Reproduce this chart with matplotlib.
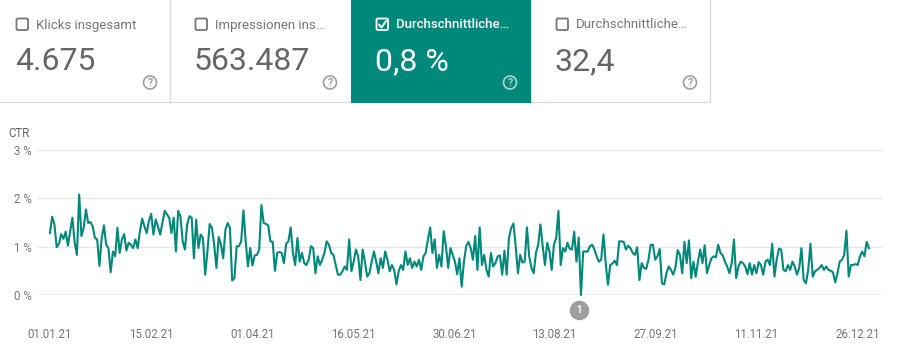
import numpy as np
import pandas as pd
import matplotlib
matplotlib.use('Agg')
import matplotlib.pyplot as plt
import matplotlib.dates as mdates
from matplotlib.patches import Rectangle, FancyBboxPatch, Circle

plt.rcParams['font.family'] = ['Roboto', 'DejaVu Sans']

# tiles on top
tile_labels = ['Klicks insgesamt', 'Impressionen ins…', 'Durchschnittliche…', 'Durchschnittliche…']
tile_values = ['4.675', '563.487', '0,8 %', '32,4']
tile_selected = [False, False, True, False]

# daily CTR in % (01.01.21 - 31.12.21)
ctr_jan_mar = [1.28, 1.62, 1.46, 0.99, 1.06, 1.26, 1.16, 1.31, 1.02, 1.32,
               1.60, 1.08, 0.83, 2.08, 1.22, 1.39, 1.77, 1.49, 1.51, 1.42,
               1.18, 1.15, 0.60, 1.18, 1.44, 1.04, 0.97, 0.47, 0.90, 0.80,
               1.39, 0.87, 1.15, 1.26, 0.92, 1.08, 1.04, 0.97, 1.15, 0.97,
               1.32, 1.58, 1.42, 1.28, 1.53, 1.68, 1.25, 1.56, 1.42, 1.25,
               1.49, 1.74, 1.67, 1.60, 1.28, 1.60, 0.90, 1.74, 1.63, 1.11,
               0.94]
ctr_mar_may = [1.46, 1.63, 1.60, 0.76, 1.56, 0.97, 1.25, 1.18, 0.42, 0.90,
               1.47, 1.39, 1.04, 0.56, 1.20, 1.04, 0.76, 1.35, 1.49, 1.39,
               0.30, 0.35, 1.01, 1.01, 1.11, 1.75, 1.11, 0.59, 0.97, 0.61,
               0.82, 0.83, 0.94, 1.86, 1.49, 1.47, 1.44, 1.11, 1.10, 0.50,
               0.87, 0.89, 0.87, 0.66, 1.06, 1.11, 1.40, 0.87, 0.62, 1.18,
               0.69, 0.87, 0.66, 0.62, 0.73, 1.01, 0.97, 0.45, 0.80, 0.62,
               0.73, 0.87]
ctr_may_jul = [1.11, 1.04, 0.87, 0.83, 0.62, 0.42, 0.42, 0.49, 0.59, 0.52,
               1.15, 0.49, 0.69, 0.94, 0.80, 0.31, 0.94, 0.69, 0.38, 0.45,
               0.69, 0.90, 0.69, 0.45, 0.76, 0.56, 0.90, 0.73, 0.49, 0.62,
               0.52, 0.22, 0.49, 0.62, 0.52, 0.90, 0.62, 0.76, 0.56, 0.69,
               0.59, 0.73, 0.52, 0.80, 0.87, 1.15, 1.40, 0.87, 1.15, 0.56,
               0.83, 0.59, 1.32, 1.01, 0.56, 0.97, 0.83, 0.69, 0.43, 0.76,
               0.17, 0.69]
ctr_jul_sep = [1.01, 1.10, 0.97, 0.73, 1.22, 0.52, 1.40, 0.62, 0.83, 0.52,
               0.38, 0.87, 0.59, 0.66, 0.80, 0.82, 0.42, 0.92, 0.42, 1.18,
               1.39, 1.48, 1.01, 0.45, 0.83, 0.67, 0.69, 1.40, 0.80, 0.56,
               0.45, 0.87, 1.04, 1.46, 1.01, 0.62, 1.08, 0.90, 0.52, 1.04,
               1.18, 1.74, 0.62, 0.97, 0.90, 1.08, 0.96, 0.94, 1.31, 0.69,
               1.19, 0.00, 0.90, 0.90, 0.90, 1.01, 1.04, 0.94, 0.80, 0.69,
               0.73, 1.25]
ctr_sep_nov = [0.66, 0.21, 0.62, 0.65, 0.71, 0.62, 1.11, 1.11, 1.10, 0.94,
               1.02, 0.97, 0.87, 0.83, 0.99, 0.31, 0.66, 0.56, 0.54, 0.73,
               1.04, 1.04, 0.73, 0.80, 0.95, 0.24, 0.22, 0.45, 0.59, 0.52,
               0.42, 0.57, 0.93, 0.83, 0.45, 1.10, 0.66, 1.13, 0.35, 0.69,
               0.38, 0.69, 0.94, 0.66, 1.03, 0.45, 0.62, 0.76, 0.80, 0.78,
               1.04, 0.87, 0.82, 0.69, 0.59, 0.45, 0.66, 1.15, 0.35, 0.59,
               0.69, 0.66]
ctr_nov_dec = [0.59, 0.43, 0.66, 0.42, 0.62, 0.45, 0.68, 0.62, 0.42, 0.69,
               0.73, 0.62, 1.06, 0.38, 0.73, 0.96, 0.94, 0.52, 0.49, 0.62,
               0.52, 0.69, 0.59, 0.42, 0.56, 0.97, 0.31, 0.24, 0.52, 1.06,
               0.38, 0.49, 0.52, 0.56, 0.62, 0.52, 0.59, 0.52, 0.50, 0.47,
               0.26, 0.45, 0.69, 0.73, 0.83, 1.33, 0.38, 0.62, 0.62, 0.64,
               0.62, 0.80, 0.90, 0.80, 1.10, 0.97]

ctr = ctr_jan_mar + ctr_mar_may + ctr_may_jul + ctr_jul_sep + ctr_sep_nov + ctr_nov_dec
dates = pd.date_range('2021-01-01', periods=len(ctr))

x_tick_labels = ['01.01.21', '15.02.21', '01.04.21', '16.05.21', '30.06.21',
                 '13.08.21', '27.09.21', '11.11.21', '26.12.21']
y_ticks = [0, 1, 2, 3]
annotation_dates = ['2021-08-24']

TEAL = '#00897b'
GREY_TXT = '#757575'

W, H = 908, 356
fig = plt.figure(figsize=(W / 100, H / 100), dpi=100)

# --- tiles, drawn in pixel coords ---
ov = fig.add_axes([0, 0, 1, 1])
ov.set_xlim(0, W)
ov.set_ylim(H, 0)
ov.axis('off')

edges = [0, 170, 351, 531, 710]
box_x = [16, 195, 376, 556]
help_x = [150, 330, 510, 690]
border = '#dadce0'
ov.plot([0, 710], [102, 102], color=border, lw=1)
for e in edges[1:]:
    ov.plot([e, e], [0, 102], color=border, lw=1)

for i, (lab, val, sel) in enumerate(zip(tile_labels, tile_values, tile_selected)):
    fg = 'white' if sel else GREY_TXT
    if sel:
        ov.add_patch(Rectangle((edges[i], 0), edges[i + 1] - edges[i], 102.5,
                               facecolor=TEAL, edgecolor='none', zorder=2))
    bx = box_x[i]
    ov.add_patch(FancyBboxPatch((bx + 0.5, 18.5), 11.5, 11.5,
                                boxstyle='round,pad=0,rounding_size=1.5',
                                facecolor='none', edgecolor=fg, lw=1.3, zorder=3))
    if sel:
        ov.plot([bx + 3, bx + 5.5, bx + 10], [24.5, 27.5, 21], color='white',
                lw=1.4, solid_capstyle='round', zorder=4)
    ov.text(bx + 20, 25, lab, color=fg, fontsize=9.5, va='center', ha='left',
            fontweight=500 if sel else 'normal', zorder=4)
    ov.text(bx - 1, 70, val, color='white' if sel else '#666666', fontsize=23,
            va='baseline', ha='left', zorder=4)
    qc = '#a7d7d1' if sel else '#9e9e9e'
    ov.add_patch(Circle((help_x[i], 82.5), 6.5, facecolor='none', edgecolor=qc,
                        lw=1.2, zorder=4))
    ov.text(help_x[i], 83, '?', color=qc, fontsize=7.5, ha='center', va='center',
            fontweight='bold', zorder=4)

# --- chart ---
ax = fig.add_axes([38 / W, (H - 295) / H, (882 - 38) / W, (295 - 150) / H])
ax.patch.set_alpha(0)
for s in ax.spines.values():
    s.set_visible(False)

for t in y_ticks[1:]:
    ax.axhline(t, color='#e6e6e6', lw=1, zorder=1)
ax.axhline(0, color='#9e9e9e', lw=1, zorder=1)

ax.plot(dates, ctr, color=TEAL, lw=1.5, clip_on=False, zorder=3)

ax.set_ylim(0, 3)
ax.set_yticks(y_ticks)
ax.set_yticklabels([f'{t} %' for t in y_ticks])
ax.set_xlim(dates[0] - pd.Timedelta(days=5.3), dates[-1] + pd.Timedelta(days=5.8))
ax.set_xticks(pd.to_datetime(x_tick_labels, format='%d.%m.%y'))
ax.xaxis.set_major_formatter(mdates.DateFormatter('%d.%m.%y'))
ax.tick_params(length=0, labelsize=8.3, labelcolor=GREY_TXT)
ax.tick_params(axis='x', pad=24)
ax.tick_params(axis='y', pad=4.3)

for d in annotation_dates:
    ax.plot(pd.Timestamp(d), -0.31, 'o', ms=13, color='#9e9e9e', clip_on=False, zorder=4)
    ax.text(pd.Timestamp(d), -0.31, '1', color='white', fontsize=7, fontweight='bold',
            ha='center', va='center', clip_on=False, zorder=5)

ov.text(8, 133.5, 'CTR', color='#616161', fontsize=8.3, va='center', ha='left')

fig.savefig('out.png', dpi=100)
